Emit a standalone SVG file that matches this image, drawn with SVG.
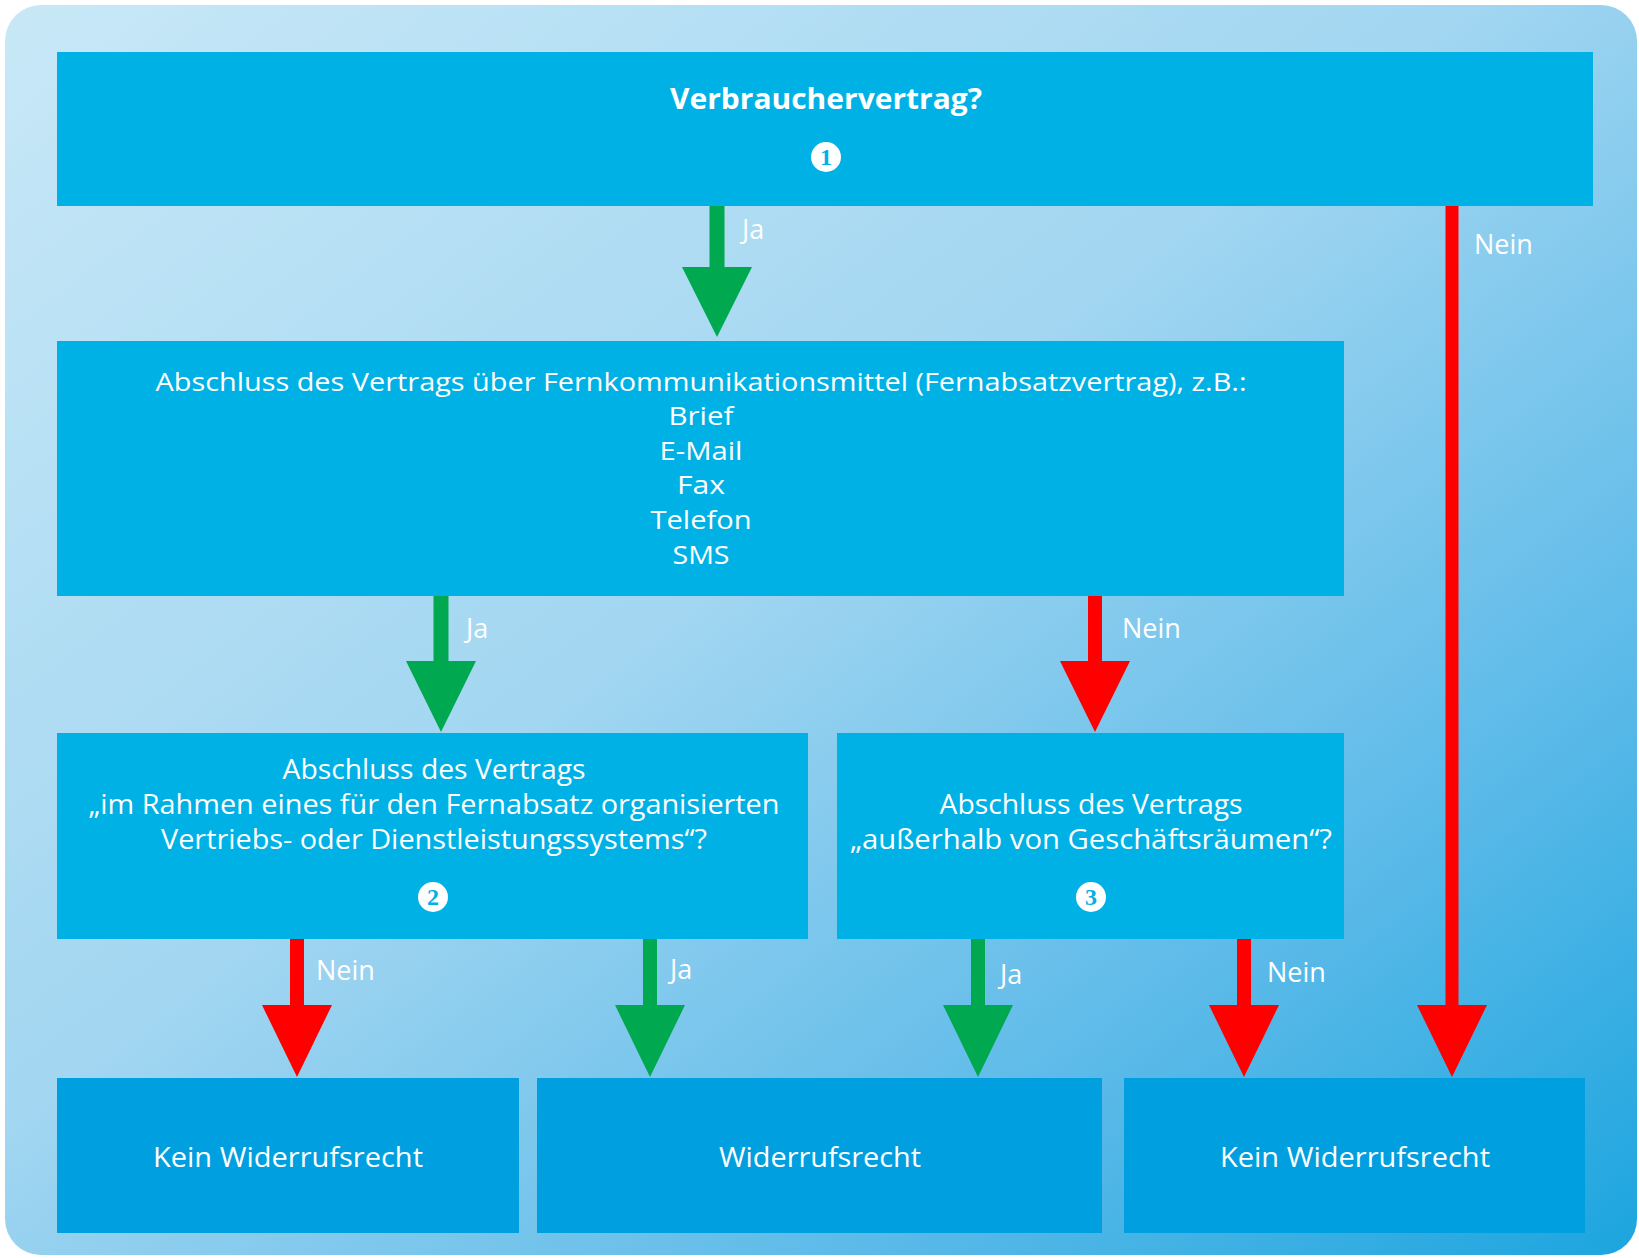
<svg xmlns="http://www.w3.org/2000/svg" width="1639" height="1258" viewBox="0 0 1639 1258">
<defs>
<linearGradient id="bg" x1="0" y1="0" x2="1" y2="1">
<stop offset="0" stop-color="#c8e8f7"/>
<stop offset="0.45" stop-color="#a2d6f1"/>
<stop offset="0.75" stop-color="#5ebbe9"/>
<stop offset="1" stop-color="#1ca5df"/>
</linearGradient>
<style>
.box{fill:#00b1e5}
.res{fill:#009fe0}
.t{font-family:"Open Sans","Noto Sans",sans-serif;font-size:28px;fill:#fff;text-anchor:middle}
.s{font-size:25px}
.b{font-weight:bold}
.lbl{font-family:"Open Sans","Noto Sans",sans-serif;font-size:27px;fill:#fff}
.num{font-family:"Liberation Serif",serif;font-size:24px;font-weight:bold;fill:#00b1e5;text-anchor:middle}
.g{fill:#00a84f}
.r{fill:#ff0000}
</style>
</defs>
<rect x="0" y="0" width="1639" height="1258" fill="#ffffff"/>
<rect x="5" y="5" width="1632" height="1250" rx="36" fill="url(#bg)"/>

<g id="connectors">
<path class="g" d="M709.5 206 H724.5 V267 H752 L717 337 L682 267 H709.5 Z"/>
<path class="r" d="M1445.5 206 H1458.5 V1005 H1487 L1452 1077 L1417 1005 H1445.5 Z"/>
<path class="g" d="M433.5 596 H448.5 V661 H476 L441 732 L406 661 H433.5 Z"/>
<path class="r" d="M1088 596 H1102 V661 H1130 L1095 732 L1060 661 H1088 Z"/>
<path class="r" d="M290 939 H304 V1005 H332 L297 1077 L262 1005 H290 Z"/>
<path class="g" d="M643 939 H657 V1005 H685 L650 1077 L615 1005 H643 Z"/>
<path class="g" d="M971 939 H985 V1005 H1013 L978 1077 L943 1005 H971 Z"/>
<path class="r" d="M1237 939 H1251 V1005 H1279 L1244 1077 L1209 1005 H1237 Z"/>
<text class="lbl" x="742" y="239">Ja</text>
<text class="lbl" x="1474" y="254">Nein</text>
<text class="lbl" x="466" y="638">Ja</text>
<text class="lbl" x="1122" y="638">Nein</text>
<text class="lbl" x="316" y="980">Nein</text>
<text class="lbl" x="670" y="979">Ja</text>
<text class="lbl" x="1000" y="984">Ja</text>
<text class="lbl" x="1267" y="982">Nein</text>
</g>

<g id="node1">
<rect class="box" x="57" y="52" width="1536" height="154"/>
<text class="t b" x="826" y="109" textLength="312" lengthAdjust="spacingAndGlyphs">Verbrauchervertrag?</text>
<circle cx="826" cy="157" r="15" fill="#fff"/>
<text class="num" x="826" y="165">1</text>
</g>

<g id="node2">
<rect class="box" x="57" y="341" width="1287" height="255"/>
<text class="t s" x="701" y="391" textLength="1091" lengthAdjust="spacingAndGlyphs">Abschluss des Vertrags über Fernkommunikationsmittel (Fernabsatzvertrag), z.B.:</text>
<text class="t s" x="701" y="425" textLength="65" lengthAdjust="spacingAndGlyphs">Brief</text>
<text class="t s" x="701" y="460" textLength="83" lengthAdjust="spacingAndGlyphs">E-Mail</text>
<text class="t s" x="701" y="494" textLength="48" lengthAdjust="spacingAndGlyphs">Fax</text>
<text class="t s" x="701" y="529" textLength="101" lengthAdjust="spacingAndGlyphs">Telefon</text>
<text class="t s" x="701" y="564" textLength="57" lengthAdjust="spacingAndGlyphs">SMS</text>
</g>

<g id="node3">
<rect class="box" x="57" y="733" width="751" height="206"/>
<text class="t" x="434" y="779" textLength="303" lengthAdjust="spacingAndGlyphs">Abschluss des Vertrags</text>
<text class="t" x="434" y="814" textLength="691" lengthAdjust="spacingAndGlyphs">„im Rahmen eines für den Fernabsatz organisierten</text>
<text class="t" x="434" y="849" textLength="546" lengthAdjust="spacingAndGlyphs">Vertriebs- oder Dienstleistungssystems“?</text>
<circle cx="433" cy="897" r="15" fill="#fff"/>
<text class="num" x="433" y="905">2</text>
</g>

<g id="node4">
<rect class="box" x="837" y="733" width="507" height="206"/>
<text class="t" x="1091" y="814" textLength="303" lengthAdjust="spacingAndGlyphs">Abschluss des Vertrags</text>
<text class="t" x="1091" y="849" textLength="482" lengthAdjust="spacingAndGlyphs">„außerhalb von Geschäftsräumen“?</text>
<circle cx="1091" cy="897" r="15" fill="#fff"/>
<text class="num" x="1091" y="905">3</text>
</g>

<g id="node5">
<rect class="res" x="57" y="1078" width="462" height="155"/>
<text class="t" x="288" y="1167" textLength="270" lengthAdjust="spacingAndGlyphs">Kein Widerrufsrecht</text>
</g>

<g id="node6">
<rect class="res" x="537" y="1078" width="565" height="155"/>
<text class="t" x="820" y="1167" textLength="202" lengthAdjust="spacingAndGlyphs">Widerrufsrecht</text>
</g>

<g id="node7">
<rect class="res" x="1124" y="1078" width="461" height="155"/>
<text class="t" x="1355" y="1167" textLength="270" lengthAdjust="spacingAndGlyphs">Kein Widerrufsrecht</text>
</g>
</svg>
